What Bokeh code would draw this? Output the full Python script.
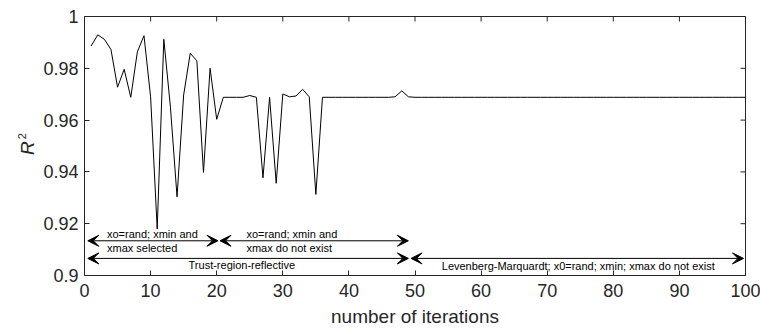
import math
from bokeh.plotting import figure
from bokeh.layouts import row
from bokeh.models import (Range1d, Arrow, VeeHead, Label,
                          FixedTicker, CustomJSTickFormatter, ColumnDataSource)
from bokeh.core.properties import value
from bokeh.embed import file_html
from bokeh.resources import INLINE

# ---- data -------------------------------------------------------------
iterations = list(range(1, 101))
r2_first = [0.9886, 0.9929, 0.9912, 0.9873, 0.9727, 0.9796, 0.9688, 0.9864, 0.9926, 0.9690,
            0.9180, 0.9912, 0.9650, 0.9304, 0.9697, 0.9858, 0.9829, 0.9398, 0.9800, 0.9603,
            0.9688, 0.9688, 0.9688, 0.9688, 0.9695, 0.9688, 0.9377, 0.9688, 0.9356, 0.9701,
            0.9690, 0.9693, 0.9719, 0.9690, 0.9313, 0.9688, 0.9688, 0.9688, 0.9688, 0.9688,
            0.9688, 0.9688, 0.9688, 0.9688, 0.9688, 0.9688, 0.9690, 0.9713, 0.9690, 0.9688]
r2_lm = [0.9688] * 50
r2 = r2_first + r2_lm

x_ticks = [0, 10, 20, 30, 40, 50, 60, 70, 80, 90, 100]
y_ticks = [0.9, 0.92, 0.94, 0.96, 0.98, 1.0]

# annotation arrows: (x_start, x_end, y)
arrow_x0 = [0.5, 20.5, 0.5, 49.4]
arrow_x1 = [20.2, 49.0, 49.0, 99.7]
arrow_y = [0.9134, 0.9134, 0.9066, 0.9066]

# annotation texts
ann_text = ["xo=rand; xmin and", "xmax selected", "xo=rand; xmin and", "xmax do not exist",
            "Trust-region-reflective", "Levenberg-Marquardt; x0=rand; xmin; xmax do not exist"]
ann_x = [3.4, 3.4, 24.5, 24.5, 23.8, 74.7]
ann_y = [0.9160, 0.9106, 0.9160, 0.9106, 0.9040, 0.9038]
ann_align = ["left", "left", "left", "left", "center", "center"]

y_label_main = "R"
y_label_sup = "2"

FONT = "Liberation Sans"
INK = "#262626"
LABEL_W = 40

# ---- narrow panel holding the y-axis title R^2 --------------------------
lab = figure(width=LABEL_W, height=329, output_backend="svg", toolbar_location=None,
             x_range=Range1d(0, LABEL_W), y_range=Range1d(0.9, 1.0),
             x_axis_type=None, y_axis_type=None,
             min_border_left=0, min_border_right=0, min_border_top=16, min_border_bottom=54)
lab.outline_line_color = None
lab.xgrid.visible = False
lab.ygrid.visible = False
lab.background_fill_color = "white"
lab.border_fill_color = "white"
lab.text(x=[27.4], y=[0.9492], text=[y_label_main], angle=math.pi / 2,
         text_align="center", text_baseline="middle", text_font=value(FONT),
         text_font_style="italic", text_font_size="19px", text_color=INK)
lab.text(x=[21.8], y=[0.9538], text=[y_label_sup], angle=math.pi / 2,
         text_align="center", text_baseline="middle", text_font=value(FONT),
         text_font_size="11px", text_color=INK)

# ---- main plot ---------------------------------------------------------
p = figure(width=760 - LABEL_W, height=329, output_backend="svg", toolbar_location=None,
           x_range=Range1d(0, 100), y_range=Range1d(0.9, 1.0),
           min_border_left=83 - LABEL_W, min_border_right=15, min_border_top=16,
           min_border_bottom=54)
p.background_fill_color = "white"
p.border_fill_color = "white"
p.outline_line_color = INK
p.outline_line_width = 1
p.xgrid.visible = False
p.ygrid.visible = False

src = ColumnDataSource(dict(x=iterations, y=r2))
p.line("x", "y", source=src, line_color="black", line_width=1)

xa = p.xaxis[0]
ya = p.yaxis[0]
for ax, ticks in ((xa, x_ticks), (ya, y_ticks)):
    ax.ticker = FixedTicker(ticks=ticks)
    ax.major_tick_in = 5
    ax.major_tick_out = 0
    ax.minor_tick_line_color = None
    ax.axis_line_color = INK
    ax.major_tick_line_color = INK
    ax.major_label_text_font = FONT
    ax.major_label_text_color = INK
    ax.major_label_text_font_size = "18px"
ya.formatter = CustomJSTickFormatter(code="return Number(tick.toFixed(2)).toString();")
xa.major_label_standoff = 8
ya.major_label_standoff = 6
xa.axis_label = "number of iterations"
xa.axis_label_text_font = FONT
xa.axis_label_text_font_style = "normal"
xa.axis_label_text_font_size = "19px"
xa.axis_label_text_color = INK
xa.axis_label_standoff = 6

# inward tick marks on the top and right edges of the box (clipped to frame)
p.scatter(x=x_ticks, y=[1.0] * len(x_ticks), marker="dash", size=10, angle=math.pi / 2,
          line_color=INK, line_width=1)
p.scatter(x=[100] * len(y_ticks), y=y_ticks, marker="dash", size=10,
          line_color=INK, line_width=1)

for xs, xe, yy in zip(arrow_x0, arrow_x1, arrow_y):
    p.add_layout(Arrow(x_start=xs, y_start=yy, x_end=xe, y_end=yy,
                       line_color="black", line_width=1,
                       start=VeeHead(size=11, fill_color="black", line_color="black", line_width=1),
                       end=VeeHead(size=11, fill_color="black", line_color="black", line_width=1)))

for t, tx, ty, al in zip(ann_text, ann_x, ann_y, ann_align):
    p.add_layout(Label(x=tx, y=ty, text=t, text_align=al, text_baseline="middle",
                       text_font=FONT, text_font_size="11px", text_color="black"))

layout = row(lab, p, spacing=0)
open("out.html", "w").write(file_html(layout, INLINE))
